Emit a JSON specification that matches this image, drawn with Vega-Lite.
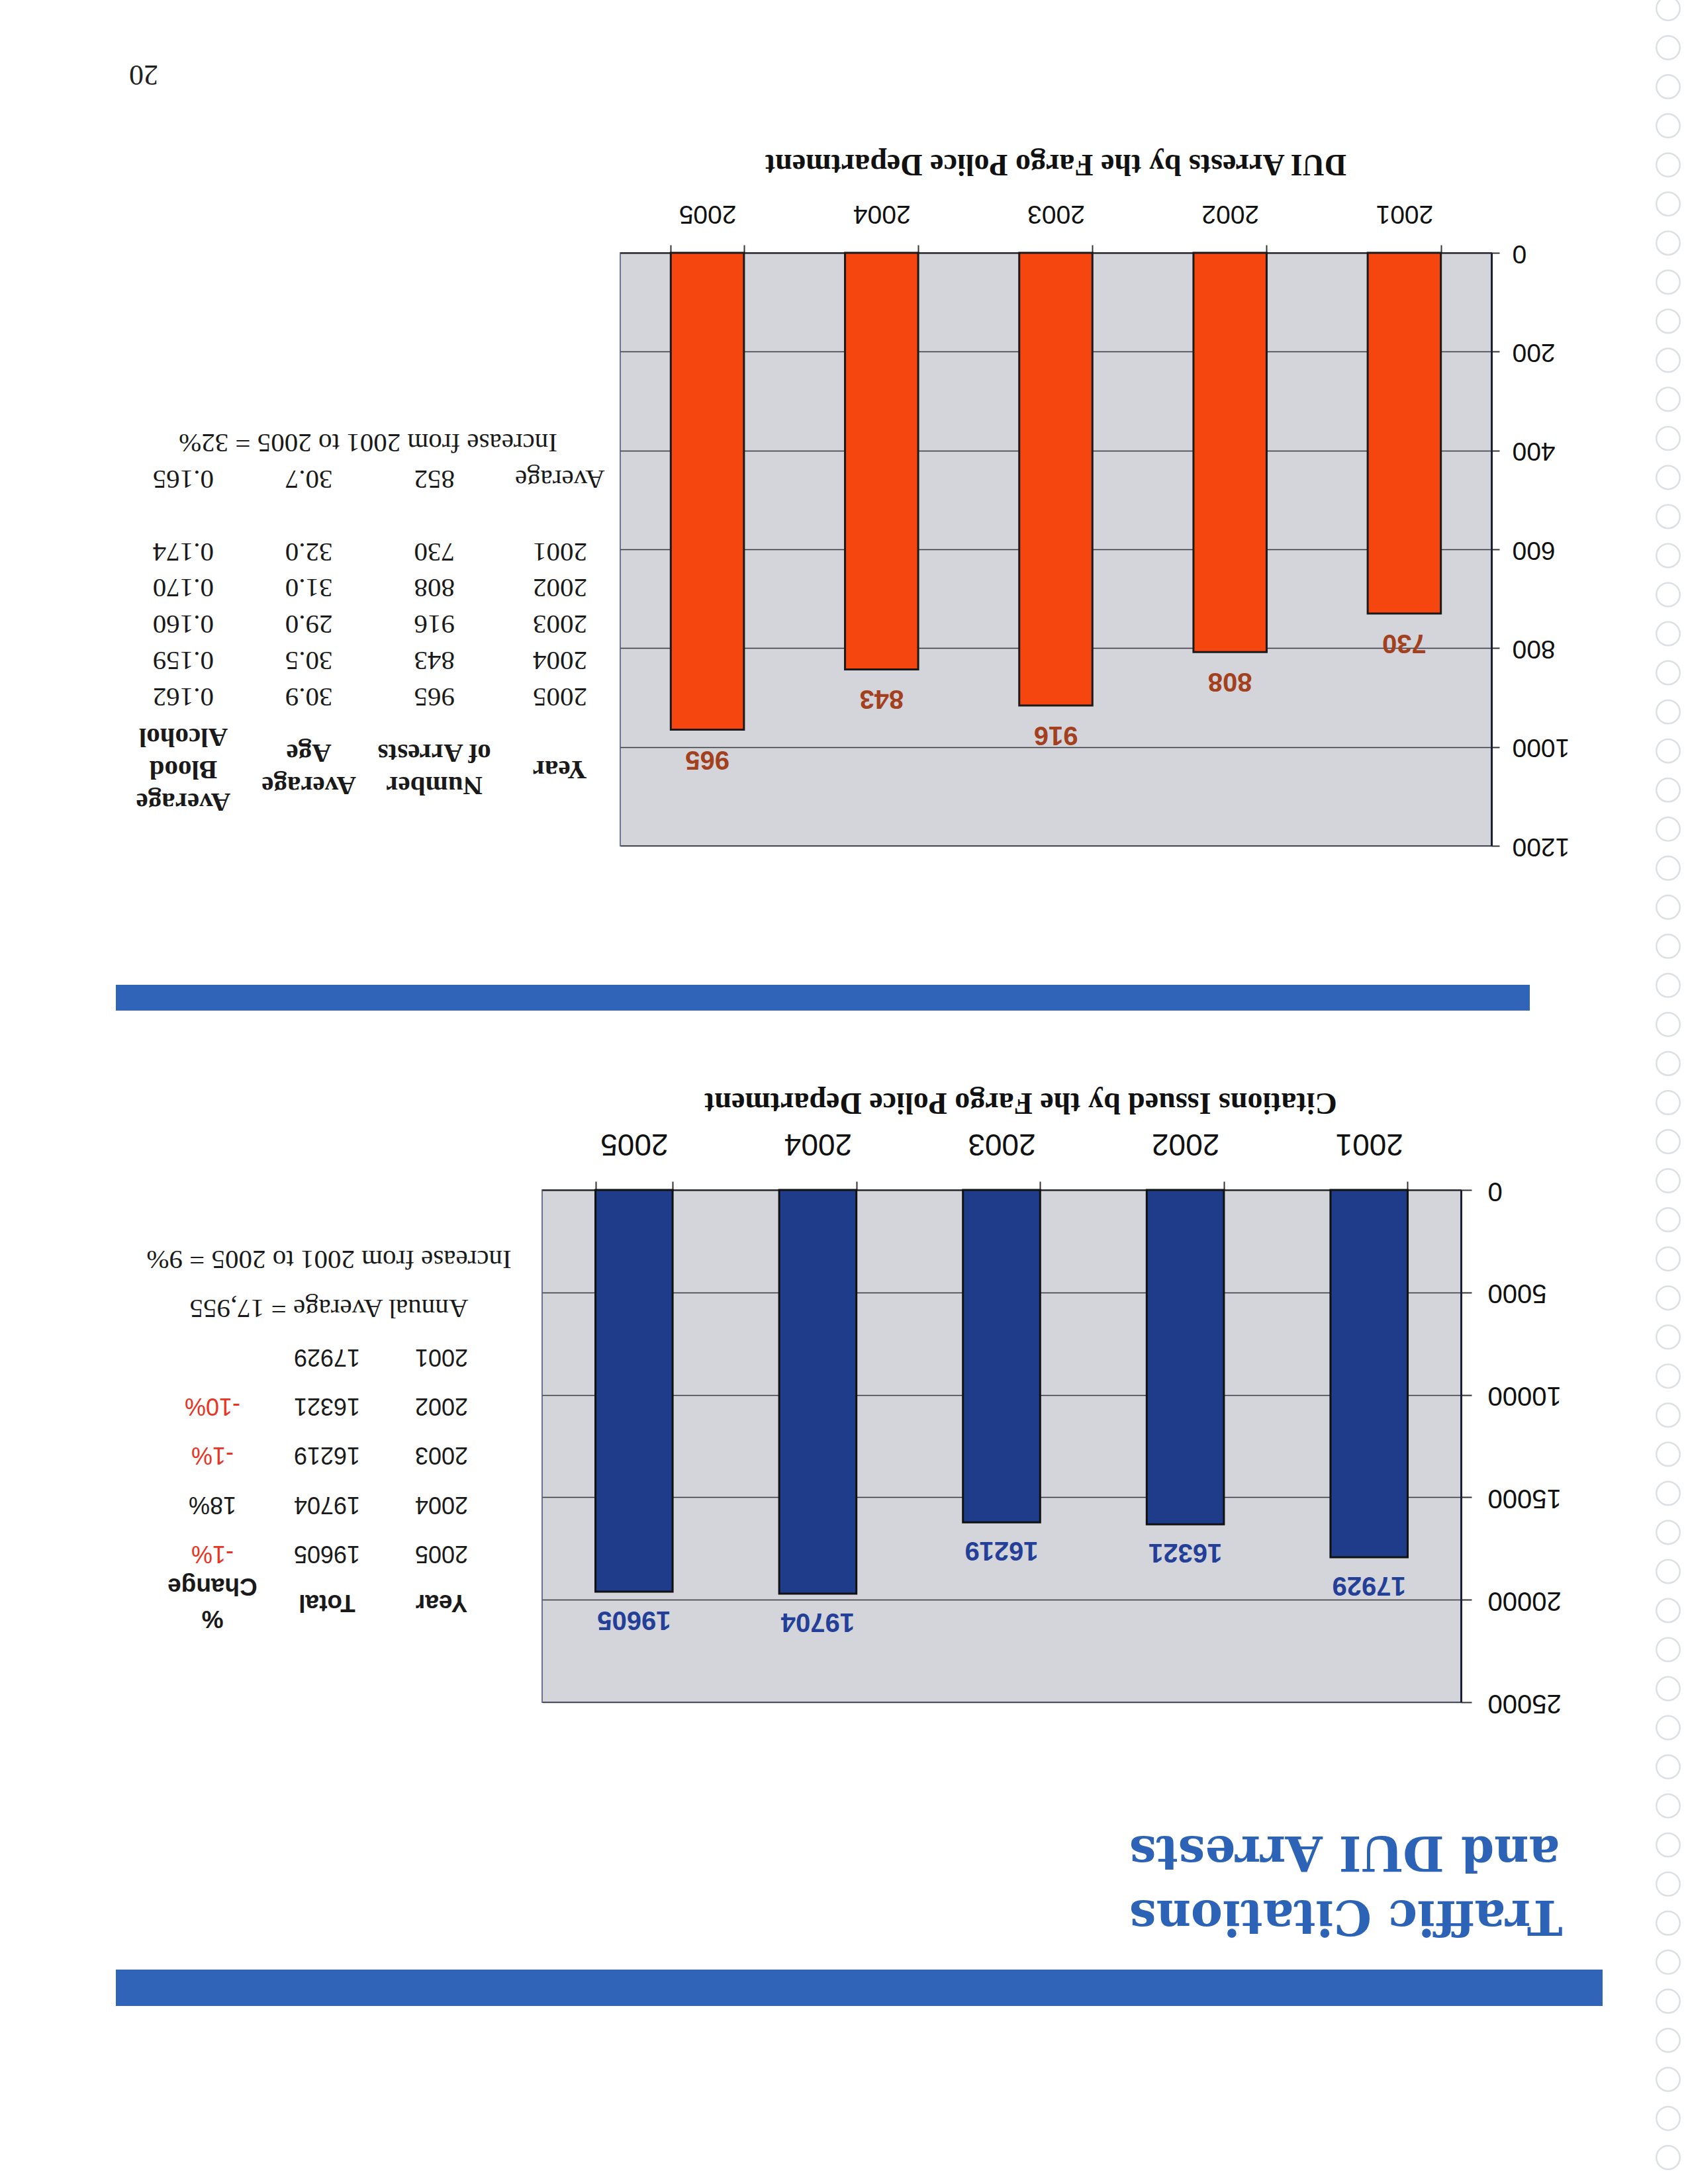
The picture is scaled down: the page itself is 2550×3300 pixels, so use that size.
{
  "$schema": "https://vega.github.io/schema/vega-lite/v6.json",
  "background": "#ffffff",
  "padding": {"left": 175, "top": 0, "right": 0, "bottom": 0},
  "config": {"view": {"stroke": null}, "font": "Liberation Sans"},
  "datasets": {
    "dui": [
      {"year": "2001", "arrests": 730, "age": 32.0, "bac": 0.174},
      {"year": "2002", "arrests": 808, "age": 31.0, "bac": 0.170},
      {"year": "2003", "arrests": 916, "age": 29.0, "bac": 0.160},
      {"year": "2004", "arrests": 843, "age": 30.5, "bac": 0.159},
      {"year": "2005", "arrests": 965, "age": 30.9, "bac": 0.162},
      {"year": "Average", "arrests": 852, "age": 30.7, "bac": 0.165}
    ],
    "citations": [
      {"year": "2001", "total": 17929, "change": ""},
      {"year": "2002", "total": 16321, "change": "-10%"},
      {"year": "2003", "total": 16219, "change": "-1%"},
      {"year": "2004", "total": 19704, "change": "18%"},
      {"year": "2005", "total": 19605, "change": "-1%"}
    ],
    "rings": [
      {"ring": 1}, {"ring": 2}, {"ring": 3}, {"ring": 4}, {"ring": 5}, {"ring": 6}, {"ring": 7}, {"ring": 8},
      {"ring": 9}, {"ring": 10}, {"ring": 11}, {"ring": 12}, {"ring": 13}, {"ring": 14}, {"ring": 15}, {"ring": 16},
      {"ring": 17}, {"ring": 18}, {"ring": 19}, {"ring": 20}, {"ring": 21}, {"ring": 22}, {"ring": 23}, {"ring": 24},
      {"ring": 25}, {"ring": 26}, {"ring": 27}, {"ring": 28}, {"ring": 29}, {"ring": 30}, {"ring": 31}, {"ring": 32},
      {"ring": 33}, {"ring": 34}, {"ring": 35}, {"ring": 36}, {"ring": 37}, {"ring": 38}, {"ring": 39}, {"ring": 40},
      {"ring": 41}, {"ring": 42}, {"ring": 43}, {"ring": 44}, {"ring": 45}, {"ring": 46}, {"ring": 47}, {"ring": 48},
      {"ring": 49}, {"ring": 50}, {"ring": 51}, {"ring": 52}, {"ring": 53}, {"ring": 54}, {"ring": 55}, {"ring": 56}
    ]
  },
  "spacing": 69,
  "hconcat": [
    {
      "spacing": 0,
      "vconcat": [
        {
          "width": 84, "height": 223,
          "data": {"values": [{"page": "20"}]},
          "mark": {"type": "text", "angle": 180, "baseline": "middle", "align": "center", "font": "Liberation Serif", "fontSize": 44, "fill": "#222222"},
          "encoding": {"text": {"field": "page"}}
        },
        {
          "bounds": "flush",
          "spacing": 0,
          "hconcat": [
            {
              "width": 762, "height": 896,
              "data": {"name": "dui"},
              "layer": [
                {
                  "mark": {"type": "text", "angle": 180, "baseline": "middle", "align": "center", "font": "Liberation Serif", "fontSize": 41, "fill": "#1a1a1a"},
                  "encoding": {
                    "x": {"datum": "year", "type": "nominal", "scale": {"type": "point", "domain": ["bac", "age", "arrests", "year"], "padding": 0.509, "align": 0.528}, "axis": null},
                    "y": {"field": "year", "type": "nominal", "scale": {"type": "point", "domain": ["_1", "_2", "_3", "_4", "_5", "Increase", "Average", "gap1", "2001", "2002", "2003", "2004", "2005", "gap2", "Header", "_6"], "padding": 0.6675, "align": 0.16}, "axis": null},
                    "text": {"field": "year"}
                  }
                },
                {
                  "mark": {"type": "text", "angle": 180, "baseline": "middle", "align": "center", "font": "Liberation Serif", "fontSize": 41, "fill": "#1a1a1a"},
                  "encoding": {
                    "x": {"datum": "arrests", "type": "nominal", "scale": {"type": "point", "domain": ["bac", "age", "arrests", "year"], "padding": 0.509, "align": 0.528}, "axis": null},
                    "y": {"field": "year", "type": "nominal", "scale": {"type": "point", "domain": ["_1", "_2", "_3", "_4", "_5", "Increase", "Average", "gap1", "2001", "2002", "2003", "2004", "2005", "gap2", "Header", "_6"], "padding": 0.6675, "align": 0.16}, "axis": null},
                    "text": {"field": "arrests", "type": "quantitative", "format": "d"}
                  }
                },
                {
                  "mark": {"type": "text", "angle": 180, "baseline": "middle", "align": "center", "font": "Liberation Serif", "fontSize": 41, "fill": "#1a1a1a"},
                  "encoding": {
                    "x": {"datum": "age", "type": "nominal", "scale": {"type": "point", "domain": ["bac", "age", "arrests", "year"], "padding": 0.509, "align": 0.528}, "axis": null},
                    "y": {"field": "year", "type": "nominal", "scale": {"type": "point", "domain": ["_1", "_2", "_3", "_4", "_5", "Increase", "Average", "gap1", "2001", "2002", "2003", "2004", "2005", "gap2", "Header", "_6"], "padding": 0.6675, "align": 0.16}, "axis": null},
                    "text": {"field": "age", "type": "quantitative", "format": ".1f"}
                  }
                },
                {
                  "mark": {"type": "text", "angle": 180, "baseline": "middle", "align": "center", "font": "Liberation Serif", "fontSize": 41, "fill": "#1a1a1a"},
                  "encoding": {
                    "x": {"datum": "bac", "type": "nominal", "scale": {"type": "point", "domain": ["bac", "age", "arrests", "year"], "padding": 0.509, "align": 0.528}, "axis": null},
                    "y": {"field": "year", "type": "nominal", "scale": {"type": "point", "domain": ["_1", "_2", "_3", "_4", "_5", "Increase", "Average", "gap1", "2001", "2002", "2003", "2004", "2005", "gap2", "Header", "_6"], "padding": 0.6675, "align": 0.16}, "axis": null},
                    "text": {"field": "bac", "type": "quantitative", "format": ".3f"}
                  }
                },
                {
                  "data": {"values": [{"col": "year", "label": "Year"}]},
                  "mark": {"type": "text", "angle": 180, "baseline": "middle", "align": "center", "font": "Liberation Serif", "fontWeight": "bold", "fontSize": 41, "fill": "#1a1a1a"},
                  "encoding": {
                    "x": {"field": "col", "type": "nominal", "scale": {"type": "point", "domain": ["bac", "age", "arrests", "year"], "padding": 0.509, "align": 0.528}, "axis": null},
                    "y": {"datum": "Header", "type": "nominal", "scale": {"type": "point", "domain": ["_1", "_2", "_3", "_4", "_5", "Increase", "Average", "gap1", "2001", "2002", "2003", "2004", "2005", "gap2", "Header", "_6"], "padding": 0.6675, "align": 0.16}, "axis": null},
                    "text": {"field": "label"}
                  }
                },
                {
                  "data": {"values": [
                    {"col": "arrests", "label": "Number\nof Arrests"},
                    {"col": "age", "label": "Average\nAge"}
                  ]},
                  "mark": {"type": "text", "angle": 180, "baseline": "middle", "align": "center", "lineBreak": "\n", "lineHeight": 49, "dy": -24.5, "font": "Liberation Serif", "fontWeight": "bold", "fontSize": 41, "fill": "#1a1a1a"},
                  "encoding": {
                    "x": {"field": "col", "type": "nominal", "scale": {"type": "point", "domain": ["bac", "age", "arrests", "year"], "padding": 0.509, "align": 0.528}, "axis": null},
                    "y": {"datum": "Header", "type": "nominal", "scale": {"type": "point", "domain": ["_1", "_2", "_3", "_4", "_5", "Increase", "Average", "gap1", "2001", "2002", "2003", "2004", "2005", "gap2", "Header", "_6"], "padding": 0.6675, "align": 0.16}, "axis": null},
                    "text": {"field": "label"}
                  }
                },
                {
                  "data": {"values": [
                    {"col": "bac", "label": "Average\nBlood\nAlcohol"}
                  ]},
                  "mark": {"type": "text", "angle": 180, "baseline": "middle", "align": "center", "lineBreak": "\n", "lineHeight": 49, "dy": -49, "font": "Liberation Serif", "fontWeight": "bold", "fontSize": 41, "fill": "#1a1a1a"},
                  "encoding": {
                    "x": {"field": "col", "type": "nominal", "scale": {"type": "point", "domain": ["bac", "age", "arrests", "year"], "padding": 0.509, "align": 0.528}, "axis": null},
                    "y": {"datum": "Header", "type": "nominal", "scale": {"type": "point", "domain": ["_1", "_2", "_3", "_4", "_5", "Increase", "Average", "gap1", "2001", "2002", "2003", "2004", "2005", "gap2", "Header", "_6"], "padding": 0.6675, "align": 0.16}, "axis": null},
                    "text": {"field": "label"}
                  }
                },
                {
                  "data": {"values": [{"note": "Increase from 2001 to 2005 = 32%"}]},
                  "mark": {"type": "text", "angle": 180, "baseline": "middle", "align": "center", "font": "Liberation Serif", "fontSize": 41, "fill": "#1a1a1a"},
                  "encoding": {
                    "y": {"datum": "Increase", "type": "nominal", "scale": {"type": "point", "domain": ["_1", "_2", "_3", "_4", "_5", "Increase", "Average", "gap1", "2001", "2002", "2003", "2004", "2005", "gap2", "Header", "_6"], "padding": 0.6675, "align": 0.16}, "axis": null},
                    "text": {"field": "note"}
                  }
                }
              ]
            },
            {
              "width": 1316, "height": 896,
              "view": {"fill": "#d3d5db", "stroke": "#6d7391", "strokeWidth": 2},
              "data": {"name": "dui"},
              "transform": [{"filter": "datum.year !== 'Average'"}],
              "title": {"text": "DUI Arrests by the Fargo Police Department", "angle": 180, "baseline": "top", "font": "Liberation Serif", "fontSize": 46, "fontWeight": "bold", "color": "#111111", "offset": -14, "anchor": "middle", "frame": "group"},
              "encoding": {
                "x": {"field": "year", "type": "ordinal", "scale": {"domain": ["2005", "2004", "2003", "2002", "2001"], "paddingInner": 0.58, "paddingOuter": 0.29},
                  "axis": {"orient": "top", "title": null, "labelAngle": 180, "labelAlign": "center", "labelBaseline": "middle", "labelPadding": 48, "labelFont": "Liberation Sans", "labelFontSize": 39, "labelColor": "#111111", "tickBand": "extent", "ticks": true, "tickSize": 12, "tickColor": "#333333", "tickWidth": 2, "domain": true, "domainColor": "#222222", "domainWidth": 2, "grid": false, "labelOverlap": false}},
                "y": {"field": "arrests", "type": "quantitative", "scale": {"domain": [0, 1200], "reverse": true, "nice": false},
                  "axis": {"orient": "right", "title": null, "values": [0, 200, 400, 600, 800, 1000, 1200], "format": "d", "labelAngle": 180, "labelAlign": "right", "labelBaseline": "middle", "labelPadding": 19, "labelFont": "Liberation Sans", "labelFontSize": 39, "labelColor": "#111111", "tickSize": 12, "tickColor": "#333333", "tickWidth": 2, "domainColor": "#1c1f3a", "domainWidth": 3, "grid": true, "gridColor": "#3b3b3b", "gridWidth": 1.5, "labelOverlap": false, "labelFlush": false}}
              },
              "layer": [
                {"mark": {"type": "bar", "fill": "#f4460e", "stroke": "#1a1a1a", "strokeWidth": 3}},
                {"mark": {"type": "text", "angle": 180, "baseline": "middle", "align": "center", "dy": -44, "font": "Liberation Sans", "fontWeight": "bold", "fontSize": 40, "fill": "#a3401e"},
                 "encoding": {"text": {"field": "arrests", "type": "quantitative", "format": "d"}}}
              ]
            }
          ]
        },
        {"width": 10, "height": 190, "data": {"values": [{}]}, "mark": {"type": "rect", "opacity": 0}, "encoding": {}},
        {"width": 2136, "height": 39, "data": {"values": [{}]}, "mark": {"type": "rect", "color": "#2f64b8"}, "encoding": {}},
        {"width": 10, "height": 114, "data": {"values": [{}]}, "mark": {"type": "rect", "opacity": 0}, "encoding": {}},
        {
          "bounds": "flush",
          "spacing": 0,
          "hconcat": [
            {
              "width": 644, "height": 774,
              "data": {"name": "citations"},
              "layer": [
                {
                  "mark": {"type": "text", "angle": 180, "baseline": "middle", "align": "center", "font": "Liberation Sans", "fontSize": 36, "fill": "#1a1a1a"},
                  "encoding": {
                    "x": {"datum": "year", "type": "nominal", "scale": {"type": "point", "domain": ["change", "total", "year"], "padding": 0.861, "align": 0.49}, "axis": null},
                    "y": {"field": "year", "type": "nominal", "scale": {"type": "point", "domain": ["_1", "Increase", "Annual", "2001", "2002", "2003", "2004", "2005", "Header", "_2"], "padding": 0.7255, "align": 0.2805}, "axis": null},
                    "text": {"field": "year"}
                  }
                },
                {
                  "mark": {"type": "text", "angle": 180, "baseline": "middle", "align": "center", "font": "Liberation Sans", "fontSize": 36, "fill": "#1a1a1a"},
                  "encoding": {
                    "x": {"datum": "total", "type": "nominal", "scale": {"type": "point", "domain": ["change", "total", "year"], "padding": 0.861, "align": 0.49}, "axis": null},
                    "y": {"field": "year", "type": "nominal", "scale": {"type": "point", "domain": ["_1", "Increase", "Annual", "2001", "2002", "2003", "2004", "2005", "Header", "_2"], "padding": 0.7255, "align": 0.2805}, "axis": null},
                    "text": {"field": "total", "type": "quantitative", "format": "d"}
                  }
                },
                {
                  "mark": {"type": "text", "angle": 180, "baseline": "middle", "align": "center", "font": "Liberation Sans", "fontSize": 36},
                  "encoding": {
                    "x": {"datum": "change", "type": "nominal", "scale": {"type": "point", "domain": ["change", "total", "year"], "padding": 0.861, "align": 0.49}, "axis": null},
                    "y": {"field": "year", "type": "nominal", "scale": {"type": "point", "domain": ["_1", "Increase", "Annual", "2001", "2002", "2003", "2004", "2005", "Header", "_2"], "padding": 0.7255, "align": 0.2805}, "axis": null},
                    "text": {"field": "change"},
                    "color": {"condition": {"test": "indexof(datum.change, '-') === 0", "value": "#ea3323"}, "value": "#1a1a1a"}
                  }
                },
                {
                  "data": {"values": [
                    {"col": "year", "label": "Year"},
                    {"col": "total", "label": "Total"}
                  ]},
                  "mark": {"type": "text", "angle": 180, "baseline": "middle", "align": "center", "font": "Liberation Sans", "fontWeight": "bold", "fontSize": 37, "fill": "#1a1a1a"},
                  "encoding": {
                    "x": {"field": "col", "type": "nominal", "scale": {"type": "point", "domain": ["change", "total", "year"], "padding": 0.861, "align": 0.49}, "axis": null},
                    "y": {"datum": "Header", "type": "nominal", "scale": {"type": "point", "domain": ["_1", "Increase", "Annual", "2001", "2002", "2003", "2004", "2005", "Header", "_2"], "padding": 0.7255, "align": 0.2805}, "axis": null},
                    "text": {"field": "label"}
                  }
                },
                {
                  "data": {"values": [
                    {"col": "change", "label": "%\nChange"}
                  ]},
                  "mark": {"type": "text", "angle": 180, "baseline": "middle", "align": "center", "lineBreak": "\n", "lineHeight": 49, "dy": -24.5, "font": "Liberation Sans", "fontWeight": "bold", "fontSize": 37, "fill": "#1a1a1a"},
                  "encoding": {
                    "x": {"field": "col", "type": "nominal", "scale": {"type": "point", "domain": ["change", "total", "year"], "padding": 0.861, "align": 0.49}, "axis": null},
                    "y": {"datum": "Header", "type": "nominal", "scale": {"type": "point", "domain": ["_1", "Increase", "Annual", "2001", "2002", "2003", "2004", "2005", "Header", "_2"], "padding": 0.7255, "align": 0.2805}, "axis": null},
                    "text": {"field": "label"}
                  }
                },
                {
                  "data": {"values": [{"note": "Annual Average = 17,955"}]},
                  "mark": {"type": "text", "angle": 180, "baseline": "middle", "align": "center", "font": "Liberation Serif", "fontSize": 41, "fill": "#1a1a1a"},
                  "encoding": {
                    "y": {"datum": "Annual", "type": "nominal", "scale": {"type": "point", "domain": ["_1", "Increase", "Annual", "2001", "2002", "2003", "2004", "2005", "Header", "_2"], "padding": 0.7255, "align": 0.2805}, "axis": null},
                    "text": {"field": "note"}
                  }
                },
                {
                  "data": {"values": [{"note": "Increase from 2001 to 2005 = 9%"}]},
                  "mark": {"type": "text", "angle": 180, "baseline": "middle", "align": "center", "font": "Liberation Serif", "fontSize": 41, "fill": "#1a1a1a"},
                  "encoding": {
                    "y": {"datum": "Increase", "type": "nominal", "scale": {"type": "point", "domain": ["_1", "Increase", "Annual", "2001", "2002", "2003", "2004", "2005", "Header", "_2"], "padding": 0.7255, "align": 0.2805}, "axis": null},
                    "text": {"field": "note"}
                  }
                }
              ]
            },
            {
              "width": 1388, "height": 774,
              "view": {"fill": "#d3d5db", "stroke": "#6d7391", "strokeWidth": 2},
              "data": {"name": "citations"},
              "title": {"text": "Citations Issued by the Fargo Police Department", "angle": 180, "baseline": "top", "font": "Liberation Serif", "fontSize": 46, "fontWeight": "bold", "color": "#111111", "offset": -30, "anchor": "middle", "frame": "group", "dx": -29},
              "encoding": {
                "x": {"field": "year", "type": "ordinal", "scale": {"domain": ["2005", "2004", "2003", "2002", "2001"], "paddingInner": 0.58, "paddingOuter": 0.29},
                  "axis": {"orient": "top", "title": null, "labelAngle": 180, "labelAlign": "center", "labelBaseline": "middle", "labelPadding": 58, "labelFont": "Liberation Sans", "labelFontSize": 46, "labelColor": "#111111", "tickBand": "extent", "ticks": true, "tickSize": 13, "tickColor": "#333333", "tickWidth": 2, "domain": true, "domainColor": "#222222", "domainWidth": 2, "grid": false, "labelOverlap": false}},
                "y": {"field": "total", "type": "quantitative", "scale": {"domain": [0, 25000], "reverse": true, "nice": false},
                  "axis": {"orient": "right", "title": null, "values": [0, 5000, 10000, 15000, 20000, 25000], "format": "d", "labelAngle": 180, "labelAlign": "right", "labelBaseline": "middle", "labelPadding": 24, "labelFont": "Liberation Sans", "labelFontSize": 40, "labelColor": "#111111", "tickSize": 16, "tickColor": "#333333", "tickWidth": 2, "domainColor": "#1c1f3a", "domainWidth": 3, "grid": true, "gridColor": "#3b3b3b", "gridWidth": 1.5, "labelOverlap": false, "labelFlush": false}}
              },
              "layer": [
                {"mark": {"type": "bar", "fill": "#1e3c89", "stroke": "#111111", "strokeWidth": 3}},
                {"mark": {"type": "text", "angle": 180, "baseline": "middle", "align": "center", "dy": -42, "font": "Liberation Sans", "fontWeight": "bold", "fontSize": 40, "fill": "#243f98"},
                 "encoding": {"text": {"field": "total", "type": "quantitative", "format": "d"}}}
              ]
            }
          ]
        },
        {"width": 10, "height": 167, "data": {"values": [{}]}, "mark": {"type": "rect", "opacity": 0}, "encoding": {}},
        {
          "bounds": "flush",
          "spacing": 0,
          "hconcat": [
            {"width": 861, "height": 72, "data": {"values": [{}]}, "mark": {"type": "rect", "opacity": 0}, "encoding": {}},
            {
              "width": 1340, "height": 72,
              "data": {"values": [{"t": "Traffic Citations\nand DUI Arrests"}]},
              "mark": {"type": "text", "angle": 180, "align": "right", "baseline": "middle", "lineBreak": "\n", "lineHeight": 97, "font": "DejaVu Serif", "fontWeight": "bold", "fontSize": 72, "fill": "#2d63b6"},
              "encoding": {"text": {"field": "t"}}
            }
          ]
        },
        {"width": 10, "height": 46, "data": {"values": [{}]}, "mark": {"type": "rect", "opacity": 0}, "encoding": {}},
        {"width": 2246, "height": 55, "data": {"values": [{}]}, "mark": {"type": "rect", "color": "#2f64b8"}, "encoding": {}}
      ]
    },
    {
      "width": 60, "height": 3300,
      "data": {"name": "rings"},
      "mark": {"type": "point", "shape": "circle", "size": 1257, "filled": false, "stroke": "#cfd4d7", "strokeWidth": 2.5, "clip": true},
      "encoding": {
        "y": {"field": "ring", "type": "ordinal", "scale": {"type": "point", "padding": 0.449, "align": 0.245}, "axis": null}
      }
    }
  ]
}
